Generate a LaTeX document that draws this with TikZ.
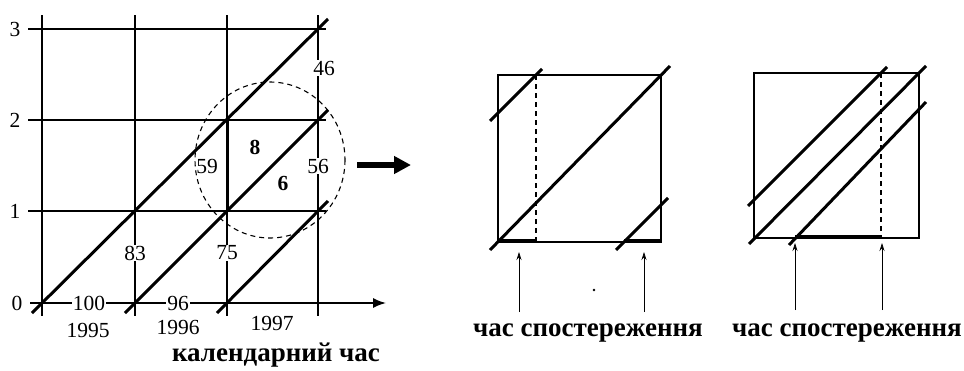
\documentclass[tikz,border=0pt]{standalone}
\usepackage{fontspec}
\setmainfont{Liberation Serif}
\usetikzlibrary{positioning, arrows.meta}

\begin{document}
\begin{tikzpicture}[
    x=1pt, y=-1pt,
    font=\fontsize{21.5}{23}\selectfont,
    grid/.style={line width=1.6pt},
    life/.style={line width=3pt},
    frame/.style={line width=1.8pt},
    cut/.style={line width=1.1pt, dash pattern=on 5pt off 4pt},
    span/.style={line width=4.5pt},
    lbl/.style={fill=white, inner sep=1pt},
    caption/.style={font=\fontsize{27}{29}\selectfont\bfseries},
    pointer/.style={-{Stealth[length=8pt,width=5pt]}, line width=0.7pt},
]
\useasboundingbox (0,0) rectangle (964,370);

% ---- Lexis grid ----
\foreach \x in {42,135,227,318}
    \draw[grid] (\x,15) -- (\x,316);
\foreach \y in {29,120,211}
    \draw[grid] (28,\y) -- (326,\y);
\coordinate (axs) at (30,303);
\coordinate (axe) at (386,303);
\draw[grid, -{Latex[length=13pt,width=10pt]}] (axs) -- (axe);
\draw[line width=3pt] (227,120) -- (227,211);

% ---- Life lines ----
\draw[life] (32,313) -- (328,19);
\draw[life] (125,313) -- (328,110);
\draw[life] (217,313) -- (328,201);

% ---- Axis labels ----
\node (a3) at (15,29) {3};
\node (a2) at (15,120) {2};
\node (a1) at (15,211) {1};
\node (a0) at (17,303) {0};
\node (y95) at (88,330) {1995};
\node (y96) at (178,327) {1996};
\node (y97) at (272,323) {1997};
\node[caption] (cal) at (276,355) {календарний час};

% ---- Counts ----
\node[lbl] (n100) at (89,303) {100};
\node[lbl] (n96) at (178,303) {96};
\node[lbl] (n83) at (135,253) {83};
\node[lbl] (n75) at (227,253) {75};
\node[lbl] (n59) at (207,166) {59};
\node[lbl] (n56) at (318,166) {56};
\node[lbl] (n46) at (324,68) {46};
\node[font=\fontsize{21.5}{23}\selectfont\bfseries] (n8) at (255,147) {8};
\node[font=\fontsize{21.5}{23}\selectfont\bfseries] (n6) at (283,183) {6};

% ---- Zoom circle and arrow ----
\draw[cut] (270,160) ellipse [x radius=75, y radius=78];
\coordinate (zs) at (357,165);
\coordinate (ze) at (411,165);
\draw[line width=6pt, -{Triangle[length=17pt,width=17pt]}] (zs) -- (ze);

% ---- Left square ----
\draw[frame] (498,75) rectangle (661,242);
\draw[life] (490,250) -- (670,66);
\draw[life] (490,121) -- (542,69);
\draw[life] (616,250) -- (668,198);
\draw[cut] (536,75) -- (536,242);
\draw[span] (498,241) -- (536,241);
\draw[span] (624,241) -- (661,241);
\coordinate (p1) at (519,312);
\coordinate (q1) at (519,252);
\coordinate (p2) at (644,312);
\coordinate (q2) at (644,252);
\draw[pointer] (p1) -- (q1);
\draw[pointer] (p2) -- (q2);
\fill (594,290) circle [radius=1.3pt];
\node[caption] (obs1) at (588,333) {час спостереження};

% ---- Right square ----
\draw[frame] (754,73) rectangle (919,238);
\draw[life] (748,206) -- (887,67);
\draw[life] (749,244) -- (926,66);
\draw[life] (789,245) -- (926,102);
\draw[cut] (881,73) -- (881,238);
\draw[span] (795,237) -- (881,237);
\coordinate (p3) at (795,310);
\coordinate (q3) at (795,243);
\coordinate (p4) at (882,310);
\coordinate (q4) at (882,243);
\draw[pointer] (p3) -- (q3);
\draw[pointer] (p4) -- (q4);
\node[caption] (obs2) at (847,333) {час спостереження};

\end{tikzpicture}
\end{document}
